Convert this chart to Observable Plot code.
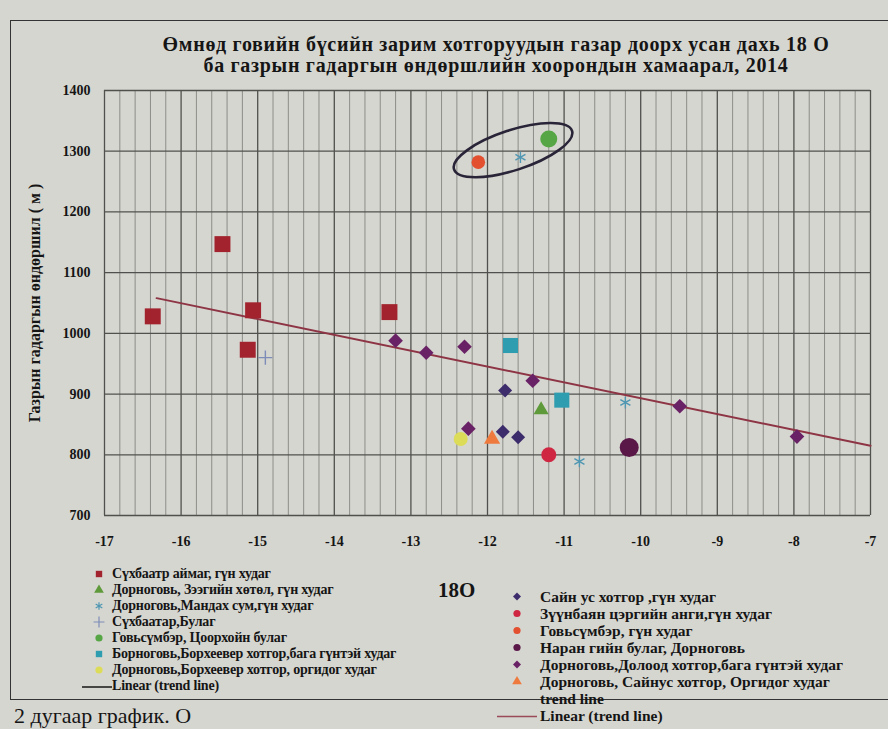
<!DOCTYPE html>
<html><head><meta charset="utf-8">
<script src="https://cdn.jsdelivr.net/npm/d3@7"></script>
<script src="https://cdn.jsdelivr.net/npm/@observablehq/plot@0.6"></script>
<style>
html,body{margin:0;padding:0;background:#d4d4ce;}
#page{position:relative;width:888px;height:729px;overflow:hidden;background:#d6d6d0;font-family:"Liberation Serif","DejaVu Serif",serif;color:#151515;}
#frame{position:absolute;left:10px;top:20px;width:900px;height:680px;border:1.5px solid #333;border-right:none;box-sizing:border-box;}
#chart{position:absolute;left:0;top:0;}
#chart svg, #chart svg *{font-family:"Liberation Serif",serif !important;}
#chart svg text{font-weight:bold;}
.title{position:absolute;left:52px;width:888px;text-align:center;font-weight:bold;font-size:20px;line-height:21px;height:21px;white-space:nowrap;letter-spacing:0.7px;}
.leg{position:absolute;font-weight:bold;white-space:nowrap;letter-spacing:-0.2px;}
.row{position:relative;}
.row svg{position:absolute;top:0;}
#isoLabel{position:absolute;left:438px;top:578px;font-weight:bold;font-size:21px;}
#pageText{position:absolute;left:14px;top:703px;font-size:22px;white-space:nowrap;}
</style>
</head>
<body>
<div id="page">
  <div id="frame"></div>
  <div class="title" style="top:34px;">Өмнөд говийн бүсийн зарим хотгоруудын газар доорх усан дахь  18 O</div>
  <div class="title" style="top:55px;">ба газрын гадаргын өндөршлийн  хоорондын хамаарал, 2014</div>
  <div id="chart"></div>
  <div id="isoLabel">18O</div>
  <div class="leg" id="legLeft" style="left:88px;top:566px;font-size:14px;"></div>
  <div class="leg" id="legRight" style="left:497px;top:588px;font-size:15.5px;letter-spacing:0px;"></div>
  <div id="pageText">2 дугаар график. О</div>
</div>
<script>
// ---- axis ticks ----
const xTicks = [-17, -16, -15, -14, -13, -12, -11, -10, -9, -8, -7];
const yTicks = [700, 800, 900, 1000, 1100, 1200, 1300, 1400];
const yAxisLabel = "Газрын гадаргын өндөршил ( м )";

// ---- series (x = 18O, y = altitude m) ----
// Сүхбаатр аймаг, гүн худаг
const sukhbaatarDeepX = [-16.37, -15.46, -15.06, -15.13, -13.28];
const sukhbaatarDeepY = [1028, 1147, 1038, 973, 1035];
// Дорноговь, Зээгийн хөтөл, гүн худаг
const zeegiinKhotolX = [-11.3];
const zeegiinKhotolY = [874];
// Дорноговь, Мандах сум, гүн худаг
const mandakhX = [-11.57, -10.8, -10.2];
const mandakhY = [1290, 789, 886];
// Сүхбаатар, Булаг
const sukhbaatarSpringX = [-14.9];
const sukhbaatarSpringY = [960];
// Говьсүмбэр, Цоорхойн булаг
const tsoorkhoiX = [-11.2];
const tsoorkhoiY = [1320];
// Дорноговь, Борхеевер хотгор, бага гүнтэй худаг
const borkhShallowX = [-11.7, -11.03];
const borkhShallowY = [980, 890];
// Дорноговь, Борхеевер хотгор, оргидог худаг
const borkhFlowX = [-12.35];
const borkhFlowY = [826];
// Сайн ус хотгор, гүн худаг
const sainUsDeepX = [-11.77, -11.8, -11.6];
const sainUsDeepY = [906, 838, 829];
// Зүүнбаян цэргийн анги, гүн худаг
const zuunbayanX = [-11.2];
const zuunbayanY = [800];
// Говьсүмбэр, гүн худаг
const govisumberDeepX = [-12.12];
const govisumberDeepY = [1282];
// Нарангийн булаг, Дорноговь
const narangiinX = [-10.15];
const narangiinY = [812];
// Дорноговь, Долоод хотгор, бага гүнтэй худаг
const doloodX = [-13.2, -12.8, -12.3, -11.41, -9.49, -7.96, -12.25];
const doloodY = [988, 968, 978, 922, 880, 830, 843];
// Дорноговь, Сайнус хотгор, оргидог худаг
const sainUsFlowX = [-11.94];
const sainUsFlowY = [826];
// Linear trend line end points
const trendX = [-16.32, -7];
const trendY = [1058, 815];

// ---- series definitions (names, symbol, colour) ----
const seriesLeft = [
  {name: "Сүхбаатр аймаг, гүн худаг", xs: sukhbaatarDeepX, ys: sukhbaatarDeepY, symbol: "square", r: 9, fill: "#a2232d"},
  {name: "Дорноговь, Зээгийн хөтөл, гүн худаг", xs: zeegiinKhotolX, ys: zeegiinKhotolY, symbol: "triangle", r: 5.6, fill: "#5e9a3a"},
  {name: "Дорноговь,Мандах сум,гүн худаг", xs: mandakhX, ys: mandakhY, symbol: "asterisk", r: 5.5, stroke: "#4f97b2"},
  {name: "Сүхбаатар,Булаг", xs: sukhbaatarSpringX, ys: sukhbaatarSpringY, symbol: "plus", r: 4.6, stroke: "#7d8db8"},
  {name: "Говьсүмбэр, Цоорхойн булаг", xs: tsoorkhoiX, ys: tsoorkhoiY, symbol: "circle", r: 8.5, fill: "#57a646"},
  {name: "Борноговь,Борхеевер хотгор,бага гүнтэй худаг", xs: borkhShallowX, ys: borkhShallowY, symbol: "square", r: 8.5, fill: "#2f9db0"},
  {name: "Дорноговь,Борхеевер хотгор, оргидог худаг", xs: borkhFlowX, ys: borkhFlowY, symbol: "circle", r: 7, fill: "#dcdc58"}
];
const seriesRight = [
  {name: "Сайн ус хотгор ,гүн худаг", xs: sainUsDeepX, ys: sainUsDeepY, symbol: "diamond2", r: 6.3, fill: "#3d2c6c"},
  {name: "Зүүнбаян цэргийн анги,гүн худаг", xs: zuunbayanX, ys: zuunbayanY, symbol: "circle", r: 7.5, fill: "#cf2742"},
  {name: "Говьсүмбэр, гүн худаг", xs: govisumberDeepX, ys: govisumberDeepY, symbol: "circle", r: 6.8, fill: "#e2502f"},
  {name: "Наран гийн булаг, Дорноговь", xs: narangiinX, ys: narangiinY, symbol: "circle", r: 9.5, fill: "#5a1848"},
  {name: "Дорноговь,Долоод хотгор,бага гүнтэй худаг", xs: doloodX, ys: doloodY, symbol: "diamond2", r: 6.6, fill: "#6a2266"},
  {name: "Дорноговь, Сайнус хотгор, Оргидог худаг", xs: sainUsFlowX, ys: sainUsFlowY, symbol: "triangle", r: 6, fill: "#ef7a3e"}
];
const allSeries = seriesLeft.concat(seriesRight);

// minor grid every 0.2
const minorX = [];
for (let i = 0; i < xTicks.length - 1; i++) {
  for (let k = 1; k < 5; k++) minorX.push(+(xTicks[i] + k * (xTicks[i + 1] - xTicks[i]) / 5).toFixed(2));
}

const trendRows = trendX.map((x, i) => ({x, y: trendY[i]}));

const dotMarks = allSeries.map(s => {
  const rows = s.xs.map((x, i) => ({x, y: s.ys[i]}));
  const opts = {x: "x", y: "y", symbol: s.symbol, r: s.r};
  if (s.stroke) { opts.stroke = s.stroke; opts.strokeWidth = 1.4; opts.fill = "none"; }
  else { opts.fill = s.fill; opts.stroke = "none"; }
  return Plot.dot(rows, opts);
});

const chart = Plot.plot({
  width: 888,
  height: 560,
  marginLeft: 104,
  marginRight: 18,
  marginTop: 90,
  marginBottom: 45,
  style: {background: "transparent", fontFamily: "'Liberation Serif', serif", fontWeight: "bold", color: "#151515", overflow: "visible"},
  x: {domain: [-17, -7]},
  y: {domain: [700, 1400]},
  marks: [
    Plot.gridX(minorX, {stroke: "#858581", strokeOpacity: 1, strokeWidth: 0.9}),
    Plot.gridX(xTicks, {stroke: "#50504e", strokeOpacity: 1, strokeWidth: 1.3}),
    Plot.gridY(yTicks, {stroke: "#50504e", strokeOpacity: 1, strokeWidth: 1.3}),
    Plot.axisX(xTicks, {tickSize: 0, tickPadding: 21, tickFormat: d => String(d), label: null, fontSize: 14}),
    Plot.axisY(yTicks, {tickSize: 0, tickPadding: 14, tickFormat: d => String(d), label: null, fontSize: 14}),
    Plot.line(trendRows, {x: "x", y: "y", stroke: "#8e3545", strokeWidth: 2}),
    ...dotMarks,
    Plot.text([yAxisLabel], {text: d => d, frameAnchor: "left", dx: -70, rotate: -90, textAnchor: "middle", fontSize: 16, fontWeight: "bold", fill: "#151515"})
  ]
});
document.getElementById("chart").appendChild(chart);

// ellipse highlighting the three upper points (computed from their positions via Plot's scales)
const sx = chart.scale("x"), sy = chart.scale("y");
const p1 = [sx.apply(govisumberDeepX[0]), sy.apply(govisumberDeepY[0])];
const p2 = [sx.apply(tsoorkhoiX[0]), sy.apply(tsoorkhoiY[0])];
const cx = (p1[0] + p2[0]) / 2, cy = (p1[1] + p2[1]) / 2;
const ang = Math.atan2(p2[1] - p1[1], p2[0] - p1[0]) * 180 / Math.PI;
const half = Math.hypot(p2[0] - p1[0], p2[1] - p1[1]) / 2;
d3.select(chart).append("ellipse")
  .attr("cx", cx).attr("cy", cy).attr("rx", half + 25).attr("ry", 20)
  .attr("transform", `rotate(${ang} ${cx} ${cy})`)
  .attr("fill", "none").attr("stroke", "#2a2438").attr("stroke-width", 2.6);

// ---- legends ----
function markerSvg(s, h) {
  const svg = d3.create("svg").attr("width", 22).attr("height", h);
  const types = {square: d3.symbolSquare, triangle: d3.symbolTriangle, asterisk: d3.symbolAsterisk, plus: d3.symbolPlus, circle: d3.symbolCircle, diamond2: d3.symbolDiamond2};
  const rr = 3.6;
  svg.append("path")
    .attr("transform", `translate(11,${h / 2})`)
    .attr("d", d3.symbol(types[s.symbol], Math.PI * rr * rr)())
    .attr("fill", s.stroke ? "none" : s.fill)
    .attr("stroke", s.stroke || "none")
    .attr("stroke-width", 1.2);
  return svg.node();
}
function lineSvg(color, w, h) {
  const svg = d3.create("svg").attr("width", w).attr("height", h);
  svg.append("line").attr("x1", 0).attr("x2", w).attr("y1", h / 2 + 1).attr("y2", h / 2 + 1).attr("stroke", color).attr("stroke-width", 1.6);
  return svg.node();
}
function addRow(container, markerNode, text, textLeft, svgLeft, h) {
  const row = document.createElement("div");
  row.className = "row";
  row.style.height = h + "px";
  row.style.lineHeight = h + "px";
  if (markerNode) { markerNode.style.left = svgLeft + "px"; row.appendChild(markerNode); }
  const span = document.createElement("span");
  span.style.position = "absolute"; span.style.left = textLeft + "px";
  span.textContent = text;
  row.appendChild(span);
  container.appendChild(row);
}
const legL = document.getElementById("legLeft");
seriesLeft.forEach(s => addRow(legL, markerSvg(s, 16), s.name, 24, 0, 16));
addRow(legL, lineSvg("#222", 30, 16), "Linear (trend line)", 24, -6, 16);
const legR = document.getElementById("legRight");
seriesRight.forEach(s => addRow(legR, markerSvg(s, 17), s.name, 43, 9, 17));
addRow(legR, null, "trend line", 43, 0, 17);
addRow(legR, lineSvg("#9a4a58", 40, 17), "Linear (trend line)", 43, 0, 17);
</script>
</body></html>
